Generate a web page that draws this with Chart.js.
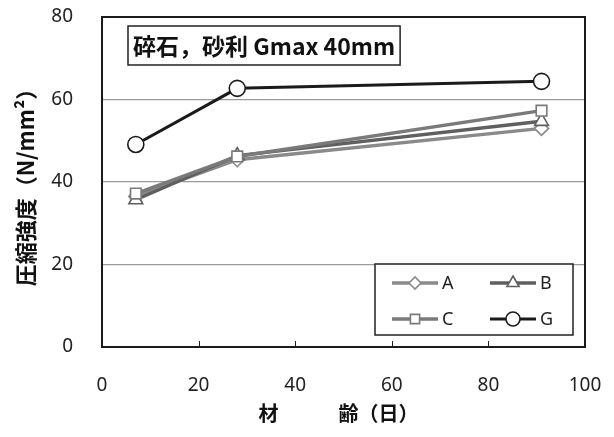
<!DOCTYPE html>
<html>
<head>
<meta charset="utf-8">
<script src="https://cdn.jsdelivr.net/npm/chart.js@4/dist/chart.umd.min.js"></script>
<style>
  html, body { margin: 0; padding: 0; background: #fff; }
  #wrap { width: 614px; height: 437px; position: relative; }
</style>
</head>
<body>
<div id="wrap"><canvas id="chart"></canvas></div>
<script>
// ages (days) and strengths (N/mm2)
const ages = [7, 28, 91];
const seriesA = [36.5, 45.4, 53.0];
const seriesB = [35.7, 46.4, 54.7];
const seriesC = [37.2, 46.2, 57.3];
const seriesG = [49.1, 62.7, 64.4];
const yTicks = [0, 20, 40, 60, 80];
const xTicks = [0, 20, 40, 60, 80, 100];
const noteText = '碎石，砂利 Gmax 40mm';

const latin = '"Noto Sans", "DejaVu Sans", sans-serif';
const cjk = '"Noto Sans CJK JP", "Noto Sans", sans-serif';

function pts(values) {
    return values.map((v, i) => ({x: ages[i], y: v}));
}

function series(label, values, color, style, radius, order, width) {
    return {
        label: label,
        data: pts(values),
        borderColor: color,
        backgroundColor: '#ffffff',
        pointBorderColor: color,
        pointBackgroundColor: '#ffffff',
        pointStyle: style,
        pointRadius: radius,
        pointBorderWidth: 1.6,
        borderWidth: width,
        tension: 0,
        order: order
    };
}

// keep the plot box where the reference has it
function noOverflow(s) {
    s.paddingTop = 0;
    s.paddingBottom = 0;
    s.paddingLeft = 0;
    s.paddingRight = 0;
}

// frame, inward x ticks, note box and legend
const decorations = {
    id: 'decorations',
    afterDraw(chart) {
        const ctx = chart.ctx;
        const ca = chart.chartArea;
        const xs = chart.scales.x;
        ctx.save();

        // inward tick marks on the x axis
        ctx.strokeStyle = '#222';
        ctx.lineWidth = 1;
        xTicks.forEach(t => {
            const px = Math.round(xs.getPixelForValue(t)) + 0.5;
            ctx.beginPath();
            ctx.moveTo(px, ca.bottom);
            ctx.lineTo(px, ca.bottom - 6);
            ctx.stroke();
        });

        // plot frame
        ctx.strokeStyle = '#1a1a1a';
        ctx.lineWidth = 2;
        ctx.strokeRect(ca.left, ca.top, ca.right - ca.left, ca.bottom - ca.top);

        // note box
        ctx.font = 'bold 23px ' + cjk;
        const tw = ctx.measureText(noteText).width;
        const bx = ca.left + 26, by = ca.top + 9, bh = 39;
        ctx.fillStyle = '#fff';
        ctx.fillRect(bx, by, tw + 10, bh);
        ctx.lineWidth = 1.5;
        ctx.strokeStyle = '#222';
        ctx.strokeRect(bx, by, tw + 10, bh);
        ctx.fillStyle = '#111';
        ctx.textBaseline = 'middle';
        ctx.textAlign = 'left';
        ctx.fillText(noteText, bx + 5, by + bh / 2 + 1);

        // legend
        const lw = 198, lh = 71;
        const lx = ca.right - 12 - lw, ly = ca.bottom - 12 - lh;
        ctx.fillStyle = '#fff';
        ctx.fillRect(lx, ly, lw, lh);
        ctx.lineWidth = 1.5;
        ctx.strokeStyle = '#222';
        ctx.strokeRect(lx, ly, lw, lh);
        const order = ['A', 'B', 'C', 'G'];
        ctx.font = '18px ' + latin;
        order.forEach((name, i) => {
            const ds = chart.data.datasets.find(d => d.label === name);
            const col = i % 2, row = Math.floor(i / 2);
            const x0 = lx + 17 + col * 98;
            const yc = ly + 19 + row * 36;
            ctx.strokeStyle = ds.borderColor;
            ctx.lineWidth = ds.borderWidth;
            ctx.beginPath();
            ctx.moveTo(x0, yc);
            ctx.lineTo(x0 + 46, yc);
            ctx.stroke();
            ctx.fillStyle = '#fff';
            ctx.lineWidth = ds.pointBorderWidth;
            Chart.helpers.drawPoint(ctx, {
                pointStyle: ds.pointStyle,
                radius: ds.pointRadius - 1,
                rotation: 0,
                borderWidth: ds.pointBorderWidth
            }, x0 + 23, yc);
            ctx.fillStyle = '#222';
            ctx.textBaseline = 'middle';
            ctx.fillText(name, x0 + 50, yc + 1);
        });
        ctx.restore();
    }
};

new Chart(document.getElementById('chart'), {
    type: 'line',
    data: {
        datasets: [
            series('A', seriesA, '#8a8a8a', 'rectRot', 7, 3, 3.5),
            series('B', seriesB, '#5f5f5f', 'triangle', 8, 2, 3.5),
            series('C', seriesC, '#7a7a7a', 'rect', 7.5, 1, 3.5),
            series('G', seriesG, '#1a1a1a', 'circle', 8, 0, 3)
        ]
    },
    options: {
        responsive: true,
        maintainAspectRatio: false,
        animation: false,
        layout: { padding: { top: 17, right: 29, left: 0, bottom: 0 } },
        plugins: { legend: { display: false }, tooltip: { enabled: false } },
        scales: {
            x: {
                type: 'linear',
                min: 0, max: 100,
                afterFit: s => { s.height = 90; noOverflow(s); },
                afterBuildTicks: s => { s.ticks = xTicks.map(v => ({value: v})); },
                grid: { display: false, drawTicks: false },
                border: { display: false },
                ticks: { color: '#222', padding: 27, maxRotation: 0, font: { size: 19, family: latin } },
                title: {
                    display: true,
                    text: '材　　　齢（日）　',
                    color: '#111',
                    font: { size: 20, weight: 'bold', family: cjk },
                    padding: { top: 0, bottom: 12 }
                }
            },
            y: {
                type: 'linear',
                min: 0, max: 80,
                afterFit: s => { s.width = 102; noOverflow(s); },
                afterBuildTicks: s => { s.ticks = yTicks.map(v => ({value: v})); },
                grid: { color: '#9a9a9a', lineWidth: 1.3, drawTicks: false },
                border: { display: false },
                ticks: { color: '#222', padding: 29, font: { size: 19, family: latin } },
                title: {
                    display: true,
                    text: '圧縮強度（N/mm²）',
                    color: '#111',
                    font: { size: 22, weight: 'bold', family: cjk },
                    padding: { top: 12, bottom: 0 }
                }
            }
        }
    },
    plugins: [decorations]
});
</script>
</body>
</html>
